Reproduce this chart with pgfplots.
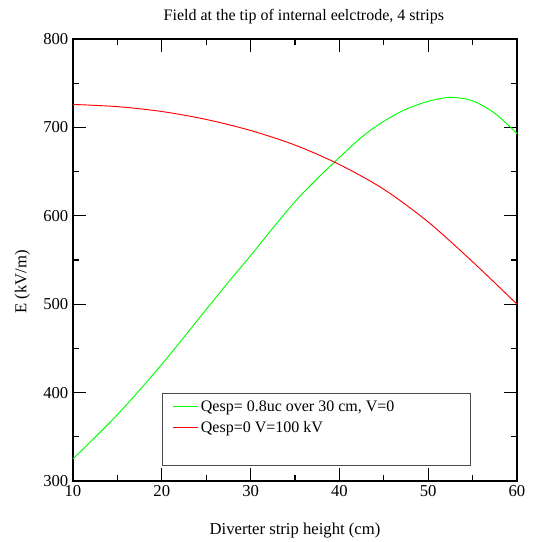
\documentclass[border=0pt]{standalone}
\usepackage{fontspec}
\setmainfont{Liberation Serif}
\usepackage{pgfplots}
\pgfplotsset{compat=1.18}
\begin{document}
\begin{tikzpicture}
\useasboundingbox (-54.75pt,-45.75pt) rectangle (345.75pt,360.75pt);
\begin{axis}[
  at={(0,0)}, anchor=south west,
  scale only axis, width=333pt, height=331.5pt,
  xmin=10, xmax=60, ymin=300, ymax=800,
  xtick={10,20,...,60}, ytick={300,400,...,800},
  minor x tick num=1, minor y tick num=1,
  tick align=inside,
  major tick length=9.5pt, minor tick length=4.5pt,
  every tick/.style={black, line width=0.8pt},
  axis line style={line width=1pt},
  font=\fontsize{12.5}{14}\selectfont,
  /pgf/number format/assume math mode=true,
  /pgf/number format/1000 sep={},
  xlabel={Diverter strip height (cm)},
  ylabel={E (kV/m)},
  every axis x label/.style={at={(rel axis cs:0.5,0)}, anchor=center, yshift=-37.5pt},
  every axis y label/.style={at={(rel axis cs:0,0.45)}, anchor=center, rotate=90, yshift=38pt},
  title={Field at the tip of internal eelctrode, 4 strips},
  every axis title/.style={at={(rel axis cs:0.52,1)}, anchor=center, yshift=16.5pt, font=\fontsize{12}{14}\selectfont},
  legend style={at={(rel axis cs:0.214,0.195)}, anchor=north west, draw=none, fill=none,
    font=\fontsize{12}{14}\selectfont, row sep=2pt},
  legend cell align=left,
  clip=false,
]
\addlegendimage{green, line width=0.7pt, legend image code/.code={\draw[green, line width=0.7pt] (0pt,0pt) -- (18.75pt,0pt);}}
\addlegendentry{Qesp= 0.8uc over 30 cm, V=0}
\addlegendimage{red, line width=0.7pt, legend image code/.code={\draw[red, line width=0.7pt] (0pt,0pt) -- (18.75pt,0pt);}}
\addlegendentry{Qesp=0 V=100 kV}
\addplot[green, line width=0.7pt, smooth, forget plot] coordinates {
(10,325) (15,375) (20,432) (25,494) (27.5,525) (30,555) (32.5,586) (35,616) (37.5,642) (40,666)
(42.5,689) (45,707) (47.5,720.5) (50,729.5) (52.5,734) (55,730) (57.5,716) (60,693)};
\addplot[red, line width=0.7pt, smooth, forget plot] coordinates {
(10,726) (15,723.5) (20,718) (25,709) (30,696.5) (35,680) (40,658) (45,630)
(50,593) (55,548) (60,500)};
\end{axis}
\draw[gray!60!black, line width=0.8pt] (66.93pt,65.64pt) rectangle (298.04pt,11.54pt);
\end{tikzpicture}
\end{document}
